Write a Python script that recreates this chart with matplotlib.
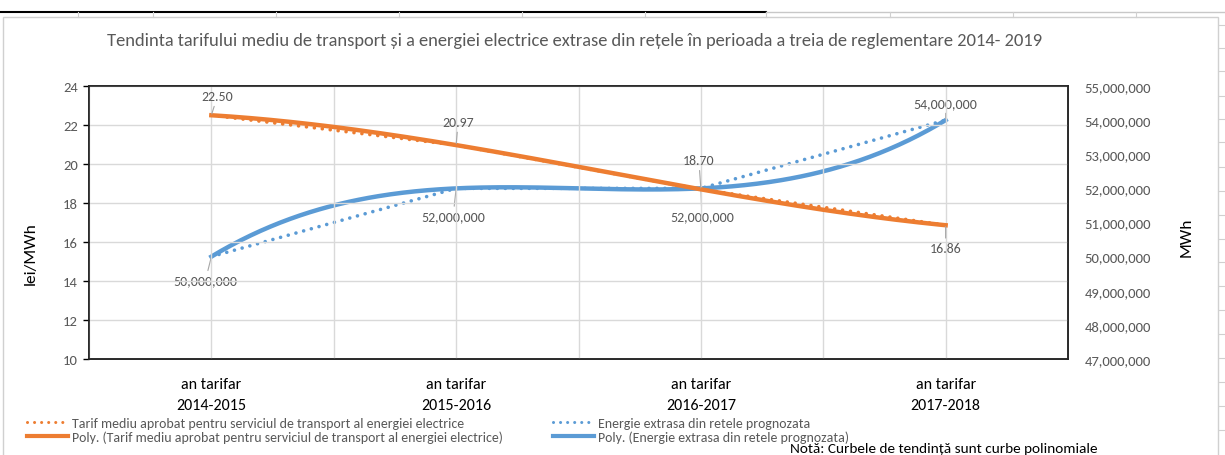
import numpy as np
import matplotlib
matplotlib.use('Agg')
import matplotlib.pyplot as plt
from matplotlib import font_manager
from matplotlib.lines import Line2D
from matplotlib.ticker import FuncFormatter

# --- data ---
categories = ['an tarifar\n2014-2015', 'an tarifar\n2015-2016',
              'an tarifar\n2016-2017', 'an tarifar\n2017-2018']
tarif = [22.50, 20.97, 18.70, 16.86]
energie = [50000000, 52000000, 52000000, 54000000]

tarif_label = 'Tarif mediu aprobat pentru serviciul de transport al energiei electrice'
energie_label = 'Energie extrasa din retele prognozata'
title = ('Tendinta tarifului mediu de transport și a energiei electrice extrase din '
         'rețele în perioada a treia de reglementare 2014- 2019')
note = 'Notă: Curbele de tendință sunt curbe polinomiale'

ORANGE = '#ED7D31'
BLUE = '#5B9BD5'
GRAY = '#595959'
GRID = '#D9D9D9'
DOTS = (0, (0.01, 2.2))

installed = {f.name for f in font_manager.fontManager.ttflist}
for fam in ['Carlito', 'Liberation Sans Narrow', 'Open Sans', 'DejaVu Sans']:
    if fam in installed:
        break
plt.rcParams['font.family'] = [fam, 'DejaVu Sans']

W, H = 1225, 456
fig = plt.figure(figsize=(W / 100, H / 100), dpi=100)


def fx(px):
    return px / W


def fy(py):
    return 1 - py / H


# spreadsheet cell lines around the chart object
fig.add_artist(Line2D([0, fx(766)], [fy(13), fy(13)], color='black', lw=1.5))
fig.add_artist(Line2D([fx(766), 1], [fy(13), fy(13)], color='#C8C8C8', lw=1))
for cx in [78, 153, 276, 399, 522, 645, 766, 890, 1013, 1136]:
    fig.add_artist(Line2D([fx(cx), fx(cx)], [fy(13), fy(18)], color='#D0D0D0', lw=0.8))
for cy in [26, 49, 72, 97, 120, 143, 168, 192, 216, 240, 263, 287, 311, 335, 359, 383, 407, 431]:
    fig.add_artist(Line2D([fx(1219), 1], [fy(cy), fy(cy)], color='#D0D0D0', lw=0.8))
fig.add_artist(plt.Rectangle((fx(3), fy(460)), fx(1215), fy(18) - fy(460),
                             fill=False, edgecolor='#D0D0D0', lw=1))

ax = fig.add_axes([fx(89), fy(360), fx(1068 - 89), fy(87) - fy(360)])
ax2 = ax.twinx()

x = np.arange(1, len(categories) + 1)
xs = np.linspace(x[0], x[-1], 300)

# dotted series lines and polynomial trendlines
ax.plot(x, tarif, color=ORANGE, lw=2.6, linestyle=DOTS, dash_capstyle='round', zorder=3)
ax.plot(xs, np.polyval(np.polyfit(x, tarif, 3), xs), color=ORANGE, lw=3.2, zorder=4)
ax2.plot(x, energie, color=BLUE, lw=2.6, linestyle=DOTS, dash_capstyle='round', zorder=3)
ax2.plot(xs, np.polyval(np.polyfit(x, energie, 3), xs), color=BLUE, lw=3.2, zorder=4)

ax.set_xlim(0.5, len(categories) + 0.5)
ax.set_ylim(10, 24)
ax.set_yticks(np.arange(10, 25, 2))
ax2.set_ylim(47000000, 55000000)
ax2.set_yticks(np.arange(47000000, 55000001, 1000000))
ax2.yaxis.set_major_formatter(FuncFormatter(lambda v, p: f'{int(v):,}'))

ax.set_xticks(x)
ax.set_xticklabels(categories, fontsize=11.5, color='black', linespacing=1.65)
ax.set_xticks(np.arange(0.5, len(categories) + 1, 1.0), minor=True)
ax.tick_params(axis='x', which='both', length=0, pad=13)
ax.tick_params(axis='y', colors=GRAY, labelsize=10.5, length=4, width=1, color='black', pad=4)
ax2.tick_params(axis='y', colors=GRAY, labelsize=10.5, length=0, pad=12)

ax.grid(True, which='both', color=GRID, lw=1)
ax.set_axisbelow(True)
for ax_ in (ax, ax2):
    for s in ax_.spines.values():
        s.set_color('#262626')
        s.set_linewidth(1.2)
ax.set_zorder(ax2.get_zorder() + 1)
ax.patch.set_visible(False)

ax.set_ylabel('lei/MWh', fontsize=12.5, color='black')
ax.yaxis.set_label_coords(-0.052, 0.39)
ax2.set_ylabel('MWh', fontsize=12.5, color='black', rotation=90)
ax2.yaxis.set_label_coords(1.114, 0.45)

# data labels with leader lines
tarif_offsets = [(6, 19), (2, 23), (-2, 29), (0, -23)]
energie_offsets = [(-6, -24), (-3, -28), (1, -28), (0, 17)]
leader = dict(arrowstyle='-', color='#A6A6A6', lw=0.8, shrinkA=1, shrinkB=1)
for xi, v, off in zip(x, tarif, tarif_offsets):
    ax.annotate(f'{v:.2f}', (xi, v), xytext=off, textcoords='offset pixels',
                ha='center', va='center', fontsize=10, color=GRAY, arrowprops=leader, zorder=6)
for xi, v, off in zip(x, energie, energie_offsets):
    ax2.annotate(f'{v:,}', (xi, v), xytext=off, textcoords='offset pixels',
                 ha='center', va='center', fontsize=10, color=GRAY, arrowprops=leader, zorder=6)

fig.text(fx(575), fy(41), title, ha='center', va='center', fontsize=13.3, color=GRAY)

handles = [
    Line2D([], [], color=ORANGE, lw=2.2, linestyle=(0, (0.01, 2.3)), dash_capstyle='round'),
    Line2D([], [], color=ORANGE, lw=3.0),
    Line2D([], [], color=BLUE, lw=2.2, linestyle=(0, (0.01, 2.3)), dash_capstyle='round'),
    Line2D([], [], color=BLUE, lw=3.0),
]
labels = [tarif_label, f'Poly. ({tarif_label})', energie_label, f'Poly. ({energie_label})']
leg = fig.legend(handles, labels, ncol=2, loc='upper left', bbox_to_anchor=(fx(27), fy(418)),
                 frameon=False, fontsize=10, handlelength=2.95, handletextpad=0.3,
                 columnspacing=3.6, labelspacing=0.12, borderpad=0, borderaxespad=0)
for t in leg.get_texts():
    t.set_color(GRAY)

# the note sits right at the bottom edge, kept fully inside the picture
fig.text(fx(790), fy(455), note, ha='left', va='bottom', fontsize=11, color='black')

fig.savefig('out.png', dpi=100)
